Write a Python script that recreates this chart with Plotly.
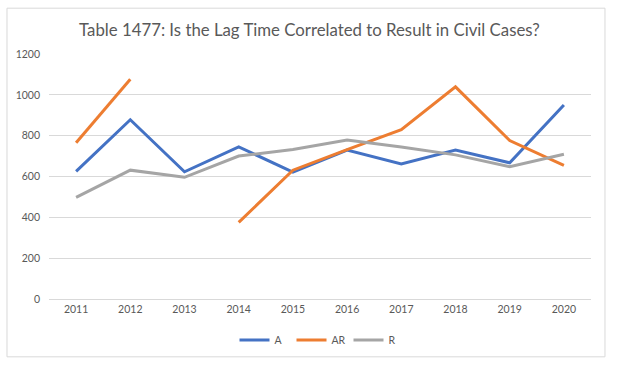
import plotly.graph_objects as go

years = ["2011", "2012", "2013", "2014", "2015", "2016", "2017", "2018", "2019", "2020"]
a_vals = [625, 878, 623, 745, 622, 729, 661, 729, 667, 950]
ar_vals = [765, 1076, None, 375, 631, 732, 829, 1039, 776, 654]
r_vals = [498, 631, 596, 700, 732, 779, 745, 706, 648, 709]
y_ticks = [0, 200, 400, 600, 800, 1000, 1200]

fig = go.Figure()
fig.add_trace(go.Scatter(x=years, y=a_vals, name="A", mode="lines",
                         line=dict(color="#4472C4", width=3), connectgaps=False))
fig.add_trace(go.Scatter(x=years, y=ar_vals, name="AR", mode="lines",
                         line=dict(color="#ED7D31", width=3), connectgaps=False))
fig.add_trace(go.Scatter(x=years, y=r_vals, name="R", mode="lines",
                         line=dict(color="#A5A5A5", width=3), connectgaps=False))

fig.update_layout(
    width=619, height=366,
    margin=dict(l=49, r=28, t=54, b=66),
    paper_bgcolor="white", plot_bgcolor="white",
    font=dict(family="Lato", color="#595959", size=10),
    title=dict(text="Table 1477: Is the Lag Time Correlated to Result in Civil Cases?",
               x=0.5, xanchor="center", y=0.918, yanchor="middle",
               font=dict(family="Lato", size=16.8, color="#595959")),
    showlegend=True,
    legend=dict(orientation="h", x=0.5, xanchor="center", y=-0.163, yanchor="middle",
                font=dict(size=10.5, color="#595959"), itemwidth=30,
                entrywidth=12, entrywidthmode="pixels"),
    xaxis=dict(type="category", range=[-0.5, 9.5], showgrid=False,
               showline=True, linecolor="#D9D9D9", linewidth=1,
               ticks="", tickfont=dict(size=10.5, color="#595959")),
    yaxis=dict(range=[0, 1200], tickvals=y_ticks, showgrid=True, gridcolor="#D9D9D9",
               gridwidth=1, zeroline=False, showline=False, ticks="",
               ticklabelstandoff=8, tickfont=dict(size=10.5, color="#595959")),
    shapes=[dict(type="rect", xref="paper", yref="paper",
                 x0=-0.0775, x1=1.0258, y0=-0.236, y1=1.187,
                 line=dict(color="#D9D9D9", width=1), layer="below")],
)

fig.write_html("out.html", config={"displayModeBar": False},
               post_script="document.body.style.margin='0px';")
